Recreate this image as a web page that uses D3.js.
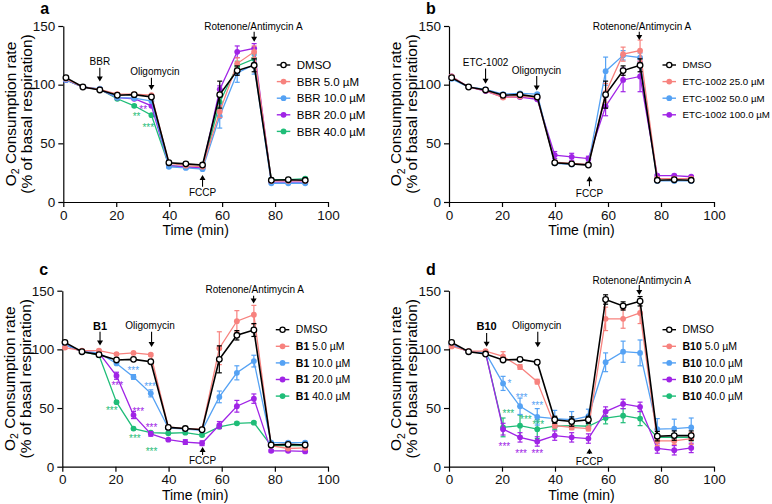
<!DOCTYPE html>
<html>
<head>
<meta charset="utf-8">
<script src="https://cdn.jsdelivr.net/npm/d3@7"></script>
<style>
  html, body { margin: 0; padding: 0; background: #fff; }
  svg { display: block; font-family: "Liberation Sans", Arial, sans-serif; }
</style>
</head>
<body>
<svg id="chart" width="772" height="504"></svg>
<script>
// measurement times (min), shared by all panels
const time = [1.0, 7.4, 13.8, 20.4, 26.8, 33.3, 39.9, 46.3, 52.6, 59.1, 65.7, 72.1, 78.6, 85.0, 91.4];
const xTicks = [0, 20, 40, 60, 80, 100];
const yTicks = [0, 50, 100, 150];

// DMSO control (panels a-c)
const dmso    = [106, 98, 95.5, 91, 91.5, 89.5, 33.5, 32.5, 31.5, 91.5, 112, 116.5, 18.5, 19, 18.5];
const dmsoErr = [1, 1, 1, 1, 1, 1, 1, 1, 1, 11.5, 4, 5.5, 1, 1, 1];

// panel a: BBR
const bbr5     = [105, 98, 96, 92, 92, 91, 33, 31, 30, 77, 118, 128, 18, 18, 18];
const bbr5Err  = [1, 1, 1, 1, 1, 1, 1, 1, 1, 5, 5, 5, 1, 1, 1];
const bbr10    = [104, 98, 96.5, 89, 88.5, 86, 30, 29, 28, 73, 110, 117, 16, 16, 16];
const bbr10Err = [1, 1, 1, 1, 1, 1, 1, 1, 1, 10, 8, 8, 1, 1, 1];
const bbr20    = [104, 98, 96, 89, 88, 82, 31, 30, 29, 96, 128, 131, 17, 17, 17];
const bbr20Err = [1, 1, 1, 1, 1, 1, 1, 1, 1, 3, 5, 4, 1, 1, 1];
const bbr40    = [104, 98, 96, 88, 82, 74, 31, 30, 29, 85, 116, 122, 19, 19, 20];
const bbr40Err = [1, 1, 1, 1, 1, 1, 1, 1, 1, 4, 4, 4, 1, 1, 1];

// panel b: ETC-1002
const etc25      = [107, 98, 95, 89, 90, 89, 34, 33, 32, 93, 126, 129, 20, 20, 20];
const etc25Err   = [1, 1, 1, 1, 1, 1, 1, 1, 1, 8, 6, 9, 1, 1, 1];
const etc50      = [105, 98, 96, 92, 92.5, 92, 33, 32, 32, 111.5, 125, 123, 18, 18, 18];
const etc50Err   = [1, 1, 1, 1, 1, 1, 1, 1, 1, 12, 4, 4, 1, 1, 1];
const etc100     = [107, 98, 94.5, 89.5, 89.5, 87.5, 40, 38.5, 37, 81.5, 104, 107, 22.5, 22.5, 21.5];
const etc100Err  = [1, 1, 1, 1, 1, 1, 3, 3, 2, 8, 10, 13, 1, 1, 1];

// panel c: B1
const b1x5      = [101.5, 99, 99, 96, 97, 95.5, 34, 32.5, 32, 101, 124, 129.5, 18, 15.5, 16];
const b1x5Err   = [1, 1, 1, 1, 1, 1, 1, 1, 1, 14, 9, 8, 1, 1, 1];
const b1x10     = [104, 98, 97, 88, 76.5, 62.5, 33, 32, 31, 59.5, 80, 90, 20.5, 20.5, 20.5];
const b1x10Err  = [1, 1, 1, 1, 2, 3, 1, 1, 1, 5, 6, 5, 1, 1, 1];
const b1x20     = [104, 98, 97, 77.5, 44, 28, 23, 21, 20, 35.5, 51.5, 58, 13.5, 13.5, 13];
const b1x20Err  = [1, 1, 1, 3, 3, 2, 1, 2, 2, 3, 5, 4, 1, 1, 1];
const b1x40     = [104, 98, 95, 55, 32.5, 29, 28.5, 29, 27, 34, 37, 37.5, 18, 18, 18];
const b1x40Err  = [1, 1, 1, 1, 1, 1, 1, 1, 1, 1, 1, 1, 1, 1, 1];

// panel d: B10 (own DMSO)
const dmsoD     = [106, 98, 96, 91, 91.5, 89, 40, 38.5, 40, 142.5, 137, 141, 26, 26.5, 26.5];
const dmsoDErr  = [1, 1, 1, 1, 1, 1, 3, 4, 3, 4, 3.5, 4, 4, 4, 4];
const b10x5     = [102.5, 98.5, 98.5, 94, 85, 72.5, 35, 33.5, 32.5, 126, 126, 131, 22, 22, 24];
const b10x5Err  = [1, 1, 1, 4, 2, 2, 2, 2, 2, 10, 8, 9, 4, 3, 5];
const b10x10    = [104, 98, 97, 71, 51.5, 42.5, 41, 40, 43, 89, 98, 97, 32, 32.5, 33.5];
const b10x10Err = [1, 1, 1, 6, 7, 7, 7, 7, 6, 8, 9, 11, 9, 8, 8];
const b10x20    = [104, 98, 97, 32, 25, 21.5, 26.5, 25, 24, 47, 53.5, 51, 15.5, 14, 16];
const b10x20Err = [1, 1, 1, 5, 4, 4, 4, 4, 4, 4, 4, 4, 4, 4, 4];
const b10x40    = [104, 98, 97, 33.5, 35, 32, 34.5, 35, 34.5, 41.5, 43.5, 41, 25, 25, 25];
const b10x40Err = [1, 1, 1, 8, 9, 8, 3, 3, 3, 5, 6, 6, 3, 3, 3];

const C = { dmso: '#000', salmon: '#f7827e', blue: '#55a2f4', purple: '#a024e6', green: '#1fbd78' };

// significance marks [time, value, text, colour]
const starsA = [[30.2, 80.7, '**', C.purple], [27.7, 75, '**', C.green], [32.1, 65.6, '***', C.green]];
const starsC = [[26.7, 83.3, '***', C.blue], [33, 70.3, '***', C.blue],
  [20.7, 71, '***', C.purple], [28.6, 49, '***', C.purple], [33.6, 34.7, '***', C.purple],
  [18.6, 49.8, '***', C.green], [27.3, 25.6, '***', C.green], [33.6, 15, '***', C.green]];
const starsD = [[22.8, 72.5, '*', C.blue], [27.4, 61.1, '***', C.blue], [33.3, 54, '***', C.blue],
  [22.4, 46.9, '***', C.green], [29, 42, '***', C.green], [33.7, 37.5, '***', C.green],
  [20.9, 18.5, '***', C.purple], [27.2, 12.8, '***', C.purple], [33.3, 12.8, '***', C.purple]];

// treatment labels: [text, time, value, bold], arrows: [time, from, to]
const marksA = { labels: [['BBR', 13.8, 119.6, false], ['Oligomycin', 34.6, 111.6], ['FCCP', 52.6, 8.2], ['Rotenone/Antimycin A', 71.8, 149.4]],
  arrows: [[13.8, 114.5, 102.6], [33.3, 106, 95.5], [52.6, 13, 23], [72.1, 145, 136.6]] };
const marksB = { labels: [['ETC-1002', 13.8, 118.5, false], ['Oligomycin', 33, 112.2], ['FCCP', 53, 7.2], ['Rotenone/Antimycin A', 72.8, 149.4]],
  arrows: [[13.8, 113.7, 100.8], [33.1, 107.4, 95], [53, 13.5, 22], [71.8, 145, 138]] };
const marksC = { labels: [['B1', 14.2, 120, true], ['Oligomycin', 33, 120], ['FCCP', 52.8, 4.9], ['Rotenone/Antimycin A', 72.4, 150.6]],
  arrows: [[14.2, 115, 103.4], [33.6, 115, 102], [52.8, 10, 16.8], [72, 145.7, 139]] };
const marksD = { labels: [['B10', 14.2, 119.9, true], ['Oligomycin', 33.1, 120], ['FCCP', 53, 4.3], ['Rotenone/Antimycin A', 72.7, 159]],
  arrows: [[14.2, 114, 102.3], [33.5, 115, 101.7], [53, 10.8, 15.6], [71.8, 154.9, 146.4]] };

const panels = [
  { letter: 'a', box: [63.3, 328, 26, 202], prefix: 'BBR', bold: false, legendFont: 11.5, clip: false, marks: marksA, stars: starsA,
    series: [['DMSO', dmso, dmsoErr, C.dmso], ['5.0 µM', bbr5, bbr5Err, C.salmon], ['10.0 µM', bbr10, bbr10Err, C.blue],
             ['20.0 µM', bbr20, bbr20Err, C.purple], ['40.0 µM', bbr40, bbr40Err, C.green]] },
  { letter: 'b', box: [449, 714, 26, 202], prefix: 'ETC-1002', bold: false, legendFont: 9.7, clip: true, marks: marksB, stars: [],
    series: [['DMSO', dmso, dmsoErr, C.dmso], ['25.0 µM', etc25, etc25Err, C.salmon], ['50.0 µM', etc50, etc50Err, C.blue],
             ['100.0 µM', etc100, etc100Err, C.purple]] },
  { letter: 'c', box: [62.3, 328, 290.7, 466.7], prefix: 'B1', bold: true, legendFont: 10.5, clip: false, marks: marksC, stars: starsC,
    series: [['DMSO', dmso, dmsoErr, C.dmso], ['5.0 µM', b1x5, b1x5Err, C.salmon], ['10.0 µM', b1x10, b1x10Err, C.blue],
             ['20.0 µM', b1x20, b1x20Err, C.purple], ['40.0 µM', b1x40, b1x40Err, C.green]] },
  { letter: 'd', box: [449, 714, 290.7, 466.7], prefix: 'B10', bold: true, legendFont: 10.5, clip: true, marks: marksD, stars: starsD,
    series: [['DMSO', dmsoD, dmsoDErr, C.dmso], ['5.0 µM', b10x5, b10x5Err, C.salmon], ['10.0 µM', b10x10, b10x10Err, C.blue],
             ['20.0 µM', b10x20, b10x20Err, C.purple], ['40.0 µM', b10x40, b10x40Err, C.green]] }
];

const svg = d3.select('#chart');

// right-hand panels are cropped at the figure's middle, as in the source
svg.append('defs').append('clipPath').attr('id', 'rightHalf')
  .append('rect').attr('x', 391).attr('y', 0).attr('width', 381).attr('height', 504);

function drawPanel(p) {
  const [x0, x1, yT, yB] = p.box;
  const x = d3.scaleLinear().domain([0, 100]).range([x0, x1]);
  const y = d3.scaleLinear().domain([0, 150]).range([yB, yT]);
  const g = svg.append('g');
  if (p.clip) g.attr('clip-path', 'url(#rightHalf)');

  // axes
  const ax = g.append('g').attr('transform', `translate(0,${yB})`)
    .call(d3.axisBottom(x).tickValues(xTicks).tickSize(5).tickSizeOuter(0).tickPadding(3));
  const ay = g.append('g').attr('transform', `translate(${x0},0)`)
    .call(d3.axisLeft(y).tickValues(yTicks).tickSize(5).tickSizeOuter(0).tickPadding(3));
  [ax, ay].forEach(a => {
    a.selectAll('path, line').attr('stroke', '#000').attr('stroke-width', 1.2);
    a.selectAll('text').attr('font-size', 13.5).attr('fill', '#111').attr('font-family', null);
  });

  g.append('text').attr('x', (x0 + x1) / 2).attr('y', yB + 33)
    .attr('text-anchor', 'middle').attr('font-size', 14).text('Time (min)');

  const ty = (yT + yB) / 2;
  const t1 = g.append('text').attr('transform', `translate(${x0 - 53},${ty}) rotate(-90)`)
    .attr('text-anchor', 'middle').attr('dy', '0.35em').attr('font-size', 15.5);
  t1.append('tspan').text('O');
  t1.append('tspan').attr('font-size', 10.5).attr('dy', '0.35em').text('2');
  t1.append('tspan').attr('dy', '-0.25em').text(' Consumption rate');
  g.append('text').attr('transform', `translate(${x0 - 37},${ty}) rotate(-90)`)
    .attr('text-anchor', 'middle').attr('dy', '0.35em').attr('font-size', 15.5)
    .text('(% of basal respiration)');

  g.append('text').attr('x', x0 - 23).attr('y', p.letter === 'a' || p.letter === 'b' ? yT - 12.5 : yT - 16)
    .attr('font-size', 16).attr('font-weight', 'bold').text(p.letter);

  // series: coloured first (reverse), control on top
  const line = d3.line().x((d, i) => x(time[i])).y(d => y(d));
  const order = p.series.slice(1).reverse().concat([p.series[0]]);
  order.forEach(([name, vals, errs, col]) => {
    const isCtrl = name === 'DMSO';
    const sg = g.append('g');
    const cap = 2.5;
    vals.forEach((v, i) => {
      const cx = x(time[i]), top = y(v + errs[i]), bot = y(v - errs[i]);
      sg.append('line').attr('x1', cx).attr('x2', cx).attr('y1', top).attr('y2', bot)
        .attr('stroke', col).attr('stroke-width', 1.2);
      [top, bot].forEach(yy => sg.append('line').attr('x1', cx - cap).attr('x2', cx + cap)
        .attr('y1', yy).attr('y2', yy).attr('stroke', col).attr('stroke-width', 1.2));
    });
    sg.append('path').attr('d', line(vals)).attr('fill', 'none')
      .attr('stroke', col).attr('stroke-width', isCtrl ? 1.6 : 1.3);
    sg.selectAll('circle').data(vals).join('circle')
      .attr('cx', (d, i) => x(time[i])).attr('cy', d => y(d))
      .attr('r', isCtrl ? 2.8 : 2.9)
      .attr('fill', isCtrl ? '#fff' : col)
      .attr('stroke', isCtrl ? '#000' : 'none').attr('stroke-width', 1.3);
  });

  // stars
  p.stars.forEach(([t, v, s, col]) => {
    g.append('text').attr('x', x(t)).attr('y', y(v)).attr('dy', '0.55em')
      .attr('text-anchor', 'middle').attr('font-size', 10).attr('fill', col).text(s);
  });

  // treatment labels and arrows
  p.marks.labels.forEach(([txt, t, v, bold]) => {
    g.append('text').attr('x', x(t)).attr('y', y(v)).attr('dy', '0.35em')
      .attr('text-anchor', 'middle').attr('font-size', bold ? 11 : 10)
      .attr('font-weight', bold ? 'bold' : null).text(txt);
  });
  p.marks.arrows.forEach(([t, from, to]) => {
    const ax1 = x(t), ya = y(from), yb = y(to);
    const dir = yb > ya ? 1 : -1;
    g.append('line').attr('x1', ax1).attr('x2', ax1).attr('y1', ya).attr('y2', yb - dir * 4)
      .attr('stroke', '#000').attr('stroke-width', 1.1);
    g.append('path')
      .attr('d', `M${ax1 - 3},${yb - dir * 5}L${ax1 + 3},${yb - dir * 5}L${ax1},${yb}Z`)
      .attr('fill', '#000');
  });

  // legend
  const lx = x0 + 213.5, ly = yT + 39, dy = 16.6;
  p.series.forEach(([name, vals, errs, col], i) => {
    const isCtrl = name === 'DMSO';
    const yy = ly + i * dy;
    g.append('line').attr('x1', lx).attr('x2', lx + 13.5).attr('y1', yy).attr('y2', yy)
      .attr('stroke', col).attr('stroke-width', 1.4);
    g.append('circle').attr('cx', lx + 6.75).attr('cy', yy).attr('r', isCtrl ? 2.6 : 2.9)
      .attr('fill', isCtrl ? '#fff' : col).attr('stroke', isCtrl ? '#000' : 'none').attr('stroke-width', 1.3);
    const t = g.append('text').attr('x', lx + 20).attr('y', yy).attr('dy', '0.36em').attr('font-size', p.legendFont);
    if (isCtrl) t.text('DMSO');
    else {
      t.append('tspan').attr('font-weight', p.bold ? 'bold' : null).text(p.prefix);
      t.append('tspan').text(' ' + name);
    }
  });
}

panels.forEach(drawPanel);
</script>
</body>
</html>
